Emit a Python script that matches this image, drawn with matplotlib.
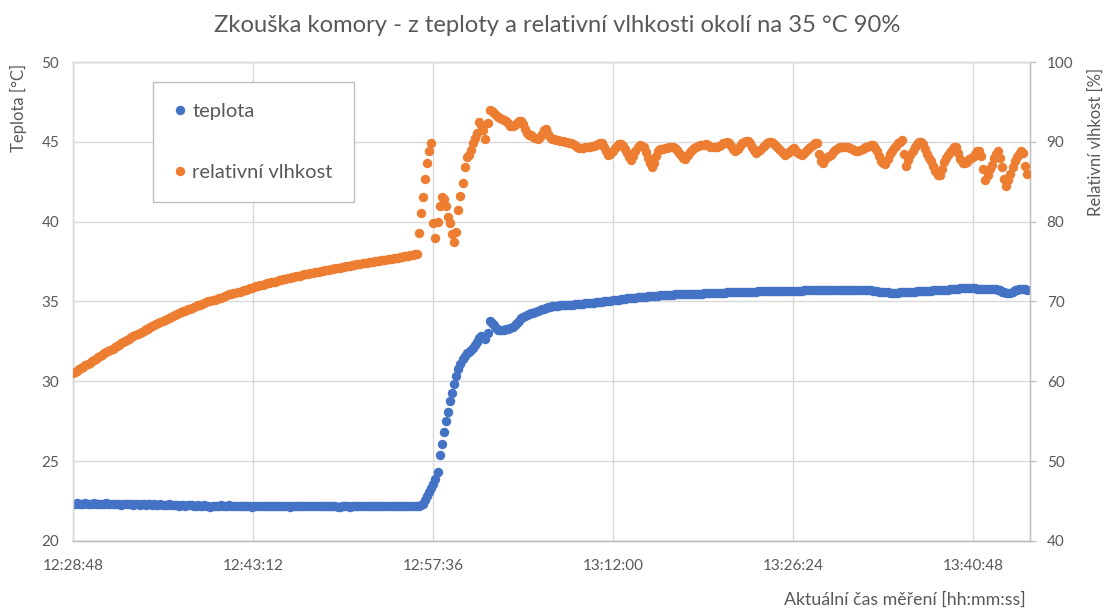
import numpy as np
import matplotlib
matplotlib.use("Agg")
import matplotlib.pyplot as plt
from matplotlib.ticker import FixedLocator, FuncFormatter
from matplotlib.lines import Line2D

# ---------------- data (one reading every 10 s) ----------------
start_time = "12:28:48"
sample_interval_s = 10
x_tick_labels = ["12:28:48", "12:43:12", "12:57:36", "13:12:00", "13:26:24", "13:40:48"]
x_axis_end = "13:45:22"

temperature_c = [
    22.3, 22.3, 22.35, 22.3, 22.3, 22.3, 22.35, 22.3, 22.3, 22.3,
    22.35, 22.3, 22.3, 22.3, 22.3, 22.3, 22.35, 22.3, 22.3, 22.3,
    22.3, 22.3, 22.3, 22.25, 22.3, 22.3, 22.3, 22.3, 22.3, 22.25,
    22.3, 22.3, 22.25, 22.3, 22.3, 22.25, 22.3, 22.3, 22.25, 22.3,
    22.25, 22.25, 22.3, 22.25, 22.25, 22.25, 22.3, 22.25, 22.25, 22.25,
    22.25, 22.2, 22.25, 22.25, 22.2, 22.25, 22.25, 22.25, 22.2, 22.2,
    22.25, 22.2, 22.2, 22.25, 22.2, 22.2, 22.15, 22.2, 22.2, 22.2,
    22.2, 22.25, 22.2, 22.2, 22.2, 22.25, 22.2, 22.2, 22.2, 22.2,
    22.2, 22.2, 22.2, 22.2, 22.2, 22.2, 22.15, 22.2, 22.2, 22.2,
    22.2, 22.2, 22.2, 22.2, 22.2, 22.2, 22.2, 22.2, 22.2, 22.2,
    22.2, 22.2, 22.2, 22.2, 22.15, 22.2, 22.2, 22.2, 22.2, 22.2,
    22.2, 22.2, 22.2, 22.2, 22.2, 22.2, 22.2, 22.2, 22.2, 22.2,
    22.2, 22.2, 22.2, 22.2, 22.2, 22.2, 22.2, 22.15, 22.15, 22.2,
    22.2, 22.2, 22.2, 22.15, 22.2, 22.2, 22.2, 22.2, 22.2, 22.2,
    22.2, 22.2, 22.2, 22.2, 22.2, 22.2, 22.2, 22.2, 22.2, 22.2,
    22.2, 22.2, 22.2, 22.2, 22.2, 22.2, 22.2, 22.2, 22.2, 22.2,
    22.2, 22.2, 22.2, 22.2, 22.2, 22.2, 22.2, 22.25, 22.3, 22.55,
    22.8, 23.05, 23.3, 23.55, 23.9, 24.3, 25.4, 26.1, 26.85, 27.5,
    28.1, 28.75, 29.3, 29.85, 30.35, 30.75, 31.1, 31.4, 31.6, 31.75,
    31.85, 31.95, 32.1, 32.25, 32.45, 32.7, 32.85, 32.8, 32.65, 33.0,
    33.75, 33.65, 33.5, 33.35, 33.22, 33.2, 33.2, 33.22, 33.26, 33.3,
    33.36, 33.42, 33.5, 33.65, 33.8, 33.95, 34.05, 34.1, 34.15, 34.2,
    34.25, 34.3, 34.35, 34.4, 34.45, 34.5, 34.55, 34.6, 34.65, 34.67,
    34.7, 34.71, 34.72, 34.73, 34.75, 34.76, 34.78, 34.79, 34.8, 34.8,
    34.81, 34.82, 34.83, 34.85, 34.86, 34.87, 34.88, 34.9, 34.91, 34.92,
    34.93, 34.95, 34.96, 34.98, 34.99, 35.0, 35.02, 35.05, 35.06, 35.08,
    35.1, 35.11, 35.12, 35.13, 35.15, 35.18, 35.2, 35.21, 35.22, 35.24,
    35.25, 35.26, 35.28, 35.29, 35.3, 35.31, 35.32, 35.32, 35.33, 35.34,
    35.35, 35.36, 35.38, 35.39, 35.4, 35.41, 35.42, 35.42, 35.43, 35.44,
    35.45, 35.45, 35.45, 35.46, 35.47, 35.47, 35.48, 35.49, 35.5, 35.5,
    35.5, 35.5, 35.5, 35.51, 35.52, 35.52, 35.53, 35.54, 35.55, 35.55,
    35.55, 35.55, 35.56, 35.56, 35.57, 35.57, 35.58, 35.58, 35.58, 35.59,
    35.6, 35.6, 35.6, 35.6, 35.6, 35.61, 35.62, 35.62, 35.62, 35.63,
    35.63, 35.63, 35.63, 35.64, 35.65, 35.65, 35.65, 35.66, 35.66, 35.66,
    35.66, 35.67, 35.67, 35.67, 35.67, 35.68, 35.68, 35.68, 35.68, 35.68,
    35.68, 35.69, 35.7, 35.7, 35.7, 35.7, 35.7, 35.7, 35.7, 35.7,
    35.7, 35.71, 35.72, 35.72, 35.72, 35.72, 35.72, 35.72, 35.73, 35.73,
    35.73, 35.73, 35.74, 35.74, 35.74, 35.74, 35.74, 35.73, 35.72, 35.72,
    35.72, 35.71, 35.7, 35.69, 35.68, 35.66, 35.65, 35.62, 35.6, 35.59,
    35.58, 35.57, 35.56, 35.56, 35.56, 35.56, 35.56, 35.57, 35.58, 35.58,
    35.58, 35.59, 35.6, 35.61, 35.62, 35.64, 35.65, 35.66, 35.67, 35.68,
    35.68, 35.68, 35.68, 35.69, 35.7, 35.7, 35.7, 35.71, 35.72, 35.73,
    35.75, 35.77, 35.78, 35.79, 35.8, 35.81, 35.82, 35.83, 35.83, 35.84,
    35.85, 35.84, 35.83, 35.82, 35.8, 35.79, 35.78, 35.78, 35.78, 35.79,
    35.8, 35.79, 35.78, 35.77, 35.75, 35.7, 35.6, 35.57, 35.55, 35.55,
    35.56, 35.62, 35.72, 35.74, 35.76, 35.77, 35.78, 35.77, 35.75,
]

humidity_pct = [
    61.0, 61.2, 61.35, 61.5, 61.7, 61.85, 62.0, 62.2, 62.35, 62.5,
    62.65, 62.8, 63.0, 63.15, 63.3, 63.5, 63.65, 63.8, 63.95, 64.1,
    64.25, 64.4, 64.55, 64.75, 64.9, 65.05, 65.2, 65.35, 65.5, 65.65,
    65.8, 65.9, 66.05, 66.2, 66.35, 66.5, 66.6, 66.75, 66.9, 67.0,
    67.15, 67.3, 67.4, 67.5, 67.65, 67.8, 67.9, 68.0, 68.15, 68.3,
    68.4, 68.5, 68.65, 68.75, 68.85, 69.0, 69.1, 69.2, 69.3, 69.4,
    69.5, 69.6, 69.7, 69.8, 69.9, 70.0, 70.1, 70.2, 70.25, 70.35,
    70.45, 70.5, 70.6, 70.7, 70.8, 70.9, 70.95, 71.05, 71.1, 71.2,
    71.25, 71.35, 71.45, 71.5, 71.6, 71.7, 71.75, 71.8, 71.9, 72.0,
    72.05, 72.1, 72.2, 72.3, 72.35, 72.4, 72.45, 72.5, 72.6, 72.7,
    72.75, 72.8, 72.85, 72.95, 73.0, 73.05, 73.1, 73.15, 73.2, 73.25,
    73.3, 73.4, 73.45, 73.5, 73.55, 73.6, 73.65, 73.7, 73.75, 73.8,
    73.85, 73.9, 73.95, 74.0, 74.05, 74.1, 74.15, 74.2, 74.25, 74.3,
    74.35, 74.4, 74.45, 74.5, 74.55, 74.6, 74.65, 74.7, 74.75, 74.8,
    74.85, 74.88, 74.9, 74.95, 75.0, 75.05, 75.1, 75.12, 75.15, 75.2,
    75.25, 75.3, 75.35, 75.38, 75.4, 75.45, 75.5, 75.55, 75.6, 75.65,
    75.7, 75.75, 75.8, 75.85, 75.9, 75.95, 78.6, 81.1, 83.1, 85.3,
    87.3, 88.8, 89.9, 79.8, 78.0, 79.9, 81.9, 83.1, 82.8, 81.9,
    80.6, 79.8, 78.5, 77.5, 78.75, 81.5, 83.2, 84.9, 86.8, 88.1,
    88.4, 89.0, 89.8, 90.5, 91.1, 92.5, 92.1, 91.5, 90.4, 92.3,
    94.0, 93.8, 93.6, 93.3, 93.1, 92.95, 92.8, 92.7, 92.6, 92.3,
    92.0, 92.0, 92.1, 92.3, 92.6, 92.6, 92.2, 91.6, 91.1, 90.9,
    90.8, 90.6, 90.45, 90.4, 90.6, 91.0, 91.5, 91.6, 91.0, 90.6,
    90.4, 90.35, 90.25, 90.2, 90.1, 90.05, 90.0, 89.95, 89.9, 89.8,
    89.7, 89.55, 89.4, 89.2, 89.2, 89.25, 89.3, 89.35, 89.4, 89.45,
    89.5, 89.6, 89.7, 89.8, 89.8, 89.4, 88.9, 88.35, 88.5, 88.9,
    89.2, 89.5, 89.7, 89.75, 89.5, 89.1, 88.6, 88.1, 87.7, 88.2,
    88.8, 89.3, 89.6, 89.5, 89.3, 88.7, 88.0, 87.3, 86.8, 87.4,
    88.2, 88.8, 89.1, 89.15, 89.2, 89.25, 89.3, 89.35, 89.4, 89.2,
    89.0, 88.6, 88.3, 88.0, 87.9, 88.3, 88.7, 89.0, 89.2, 89.35,
    89.5, 89.6, 89.6, 89.65, 89.7, 89.55, 89.4, 89.3, 89.3, 89.4,
    89.5, 89.65, 89.8, 89.9, 90.0, 89.8, 89.5, 89.1, 88.8, 89.1,
    89.5, 89.8, 90.0, 90.1, 90.1, 89.8, 89.4, 89.0, 88.6, 88.8,
    89.0, 89.3, 89.6, 89.8, 90.0, 89.95, 89.8, 89.55, 89.3, 89.05,
    88.8, 88.6, 88.4, 88.65, 88.9, 89.05, 89.2, 88.9, 88.6, 88.5,
    88.4, 88.65, 88.9, 89.15, 89.4, 89.6, 89.8, 89.9, 88.5, 87.6,
    87.4, 87.8, 88.1, 88.25, 88.4, 88.7, 89.0, 89.2, 89.4, 89.35,
    89.3, 89.35, 89.4, 89.25, 89.1, 88.95, 88.8, 88.9, 89.0, 89.15,
    89.3, 89.4, 89.5, 89.55, 89.6, 89.2, 88.8, 88.2, 87.6, 87.4,
    87.2, 87.8, 88.5, 88.9, 89.2, 89.5, 89.8, 90.0, 90.2, 88.5,
    87.0, 87.7, 88.4, 88.9, 89.3, 89.7, 90.0, 90.0, 89.7, 89.1,
    88.5, 88.0, 87.6, 87.0, 86.4, 85.9, 85.8, 86.6, 87.5, 88.0,
    88.4, 88.7, 89.0, 89.3, 89.4, 88.6, 87.8, 87.4, 87.3, 87.5,
    87.8, 87.95, 88.1, 88.5, 88.8, 88.9, 88.2, 86.6, 85.2, 85.8,
    86.6, 87.1, 88.0, 88.5, 88.9, 88.0, 86.8, 85.4, 84.5, 85.2,
    86.0, 86.9, 87.6, 88.1, 88.5, 88.8, 88.6, 87.0, 86.0,
]

series_names = ["teplota", "relativní vlhkost"]
title = "Zkouška komory - z teploty a relativní vlhkosti okolí na 35 °C 90%"
x_label = "Aktuální čas měření [hh:mm:ss]"
y_left_label = "Teplota [°C]"
y_right_label = "Relativní vlhkost [%]"

# ---------------- helpers ----------------
def hms_to_s(s):
    h, m, sec = (int(v) for v in s.split(":"))
    return h * 3600 + m * 60 + sec

t0 = hms_to_s(start_time)
times_t = np.arange(len(temperature_c)) * sample_interval_s
times_h = np.arange(len(humidity_pct)) * sample_interval_s
tick_pos = [hms_to_s(l) - t0 for l in x_tick_labels]
x_end = hms_to_s(x_axis_end) - t0

def fmt_time(v, pos=None):
    s = int(round(v + t0))
    return f"{s // 3600:02d}:{(s % 3600) // 60:02d}:{s % 60:02d}"

# ---------------- style ----------------
FONT = ["Lato", "DejaVu Sans"]
plt.rcParams["font.family"] = FONT
TXT = "#595959"
GRID = "#d9d9d9"
BLUE = "#4472C4"
ORANGE = "#ED7D31"

W, H = 1107, 611
fig = plt.figure(figsize=(W / 100, H / 100), dpi=100)
L, R, T, B = 73, 1030, 62, 541
ax = fig.add_axes([L / W, 1 - B / H, (R - L) / W, (B - T) / H])
ax2 = ax.twinx()

ms = 6.8
ax.plot(times_t, temperature_c, linestyle="none", marker="o", ms=ms,
        color=BLUE, mec="none", zorder=3)
ax2.plot(times_h, humidity_pct, linestyle="none", marker="o", ms=ms,
         color=ORANGE, mec="none", zorder=3)

ax.set_xlim(0, x_end)
ax.set_ylim(20, 50)
ax2.set_ylim(40, 100)
ax.yaxis.set_major_locator(FixedLocator(np.arange(20, 51, 5)))
ax2.yaxis.set_major_locator(FixedLocator(np.arange(40, 101, 10)))
ax.xaxis.set_major_locator(FixedLocator(tick_pos))
ax.xaxis.set_major_formatter(FuncFormatter(fmt_time))

ax.grid(True, color=GRID, linewidth=1.0, zorder=0)
ax.set_axisbelow(True)

for a in (ax, ax2):
    for sp in a.spines.values():
        sp.set_color(GRID)
        sp.set_linewidth(1.0)
ax2.spines["right"].set_color("#bfbfbf")
ax.spines["bottom"].set_color("#bfbfbf")
ax2.spines["bottom"].set_color("#bfbfbf")

ax.tick_params(axis="x", length=0, pad=13, labelsize=11, labelcolor=TXT)
ax.tick_params(axis="y", length=0, pad=10, labelsize=11, labelcolor=TXT)
ax2.tick_params(axis="y", length=4, width=1, color="#bfbfbf", pad=8,
                labelsize=11, labelcolor=TXT)

fig.text(557 / W, 1 - 26 / H, title, ha="center", va="center",
         fontsize=17.1, color=TXT)
fig.text(18 / W, 1 - 64 / H, y_left_label, rotation=90, ha="center",
         va="top", fontsize=12, color=TXT)
fig.text(1096 / W, 1 - 68 / H, y_right_label, rotation=90, ha="center",
         va="top", fontsize=12, color=TXT)
fig.text(1026 / W, 1 - 600 / H, x_label, ha="right", va="center",
         fontsize=12.8, color=TXT)

handles = [
    Line2D([], [], linestyle="none", marker="o", ms=ms, color=BLUE, mec="none"),
    Line2D([], [], linestyle="none", marker="o", ms=ms, color=ORANGE, mec="none"),
]
leg = ax2.legend(handles, series_names, loc="upper left",
                 bbox_to_anchor=((153 - L) / (R - L), (B - 82) / (B - T)),
                 frameon=True, fancybox=False, edgecolor="#bfbfbf",
                 fontsize=14.5, labelcolor=TXT, handlelength=0.6,
                 handletextpad=0.3, labelspacing=2.15, borderpad=1.05,
                 borderaxespad=0, framealpha=1)
leg.get_frame().set_linewidth(1.0)

fig.savefig("out.png", dpi=100)
